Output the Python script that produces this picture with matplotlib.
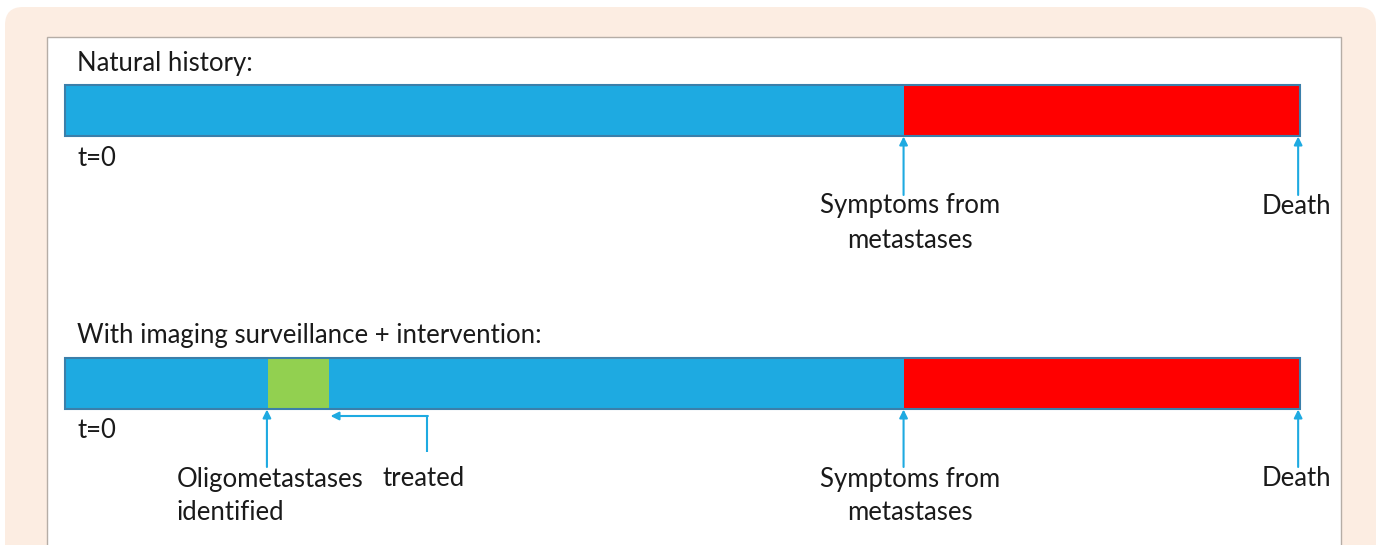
import matplotlib.pyplot as plt
from matplotlib.patches import FancyBboxPatch, Rectangle

# ---- timeline data (time units, death = 100) ----
t_start = 0
t_oligo_found = 16.4
t_oligo_treated = 21.4
t_symptoms = 67.9
t_death = 100

natural_segments = [(t_start, t_symptoms, '#1EAAE1'), (t_symptoms, t_death, '#FF0000')]
surveil_segments = [(t_start, t_oligo_found, '#1EAAE1'),
                    (t_oligo_found, t_oligo_treated, '#92D050'),
                    (t_oligo_treated, t_symptoms, '#1EAAE1'),
                    (t_symptoms, t_death, '#FF0000')]

row_titles = ['Natural history:', 'With imaging surveillance + intervention:']

ARROW_C = '#1EAAE1'
TEXT_C = '#1a1a1a'
FONT = ['Lato', 'DejaVu Sans']
FS = 18.5

W, H = 1381, 545
fig = plt.figure(figsize=(W / 100, H / 100), dpi=100)
fig.patch.set_facecolor('white')

# background panels in pixel space
bg = fig.add_axes([0, 0, 1, 1])
bg.set_xlim(0, W)
bg.set_ylim(H, 0)
bg.axis('off')
bg.add_patch(FancyBboxPatch((5, 7), W - 10, H + 30, boxstyle='round,pad=0,rounding_size=18',
                            fc='#FCEDE2', ec='none'))
bg.add_patch(Rectangle((47, 37), 1294, H, fc='white', ec='#B5ADA6', lw=1))

# timeline axes: x in time units, y in pixels
ax = fig.add_axes([0, 0, 1, 1])
ax.patch.set_alpha(0)
scale = 1235 / t_death  # px per time unit
x0 = 65
ax.set_xlim(-x0 / scale, (W - x0) / scale)
ax.set_ylim(H, 0)
ax.axis('off')


def label(x, y, s, ha='center'):
    ax.text(x, y, s, fontsize=FS, family=FONT, color=TEXT_C, va='center', ha=ha)


def draw_row(segments, bar_y):
    bar_h = 51
    for a, b, c in segments:
        ax.barh(bar_y, b - a, left=a, height=bar_h, color=c, edgecolor='none')
    ax.add_patch(Rectangle((t_start, bar_y - bar_h / 2), t_death - t_start, bar_h,
                           fill=False, ec='#3B7FAA', lw=1.5))
    label(t_start + 12 / scale, bar_y + 48, 't=0', ha='left')
    return bar_y + bar_h / 2


def up_arrow(x, y_from, y_to):
    ax.annotate('', xy=(x, y_to), xytext=(x, y_from),
                arrowprops=dict(arrowstyle='-|>', color=ARROW_C, lw=1.5,
                                mutation_scale=12, shrinkA=0, shrinkB=0))


# --- row 1 ---
label(12 / scale, 63, row_titles[0], ha='left')
bottom1 = draw_row(natural_segments, 110)
up_arrow(t_symptoms, 195, bottom1 + 1)
up_arrow(t_death - 0.15, 195, bottom1 + 1)
label(t_symptoms + 0.5, 206, 'Symptoms from')
label(t_symptoms + 0.5, 240, 'metastases')
label(t_death - 0.3, 206, 'Death')

# --- row 2 ---
label(12 / scale, 335, row_titles[1], ha='left')
bottom2 = draw_row(surveil_segments, 383)
up_arrow(t_oligo_found - 0.05, 467, bottom2 + 1)
up_arrow(t_symptoms, 467, bottom2 + 1)
up_arrow(t_death - 0.15, 467, bottom2 + 1)

# "treated" elbow arrow
tx = t_oligo_treated + 98 / scale
ax.plot([tx, tx], [452, 416], color=ARROW_C, lw=1.5, solid_capstyle='butt')
ax.annotate('', xy=(t_oligo_treated + 0.1, 416), xytext=(tx + 0.05, 416),
            arrowprops=dict(arrowstyle='-|>', color=ARROW_C, lw=1.5,
                            mutation_scale=12, shrinkA=0, shrinkB=0))

label(t_oligo_found - 91 / scale, 479, 'Oligometastases', ha='left')
label(t_oligo_found - 91 / scale, 513, 'identified', ha='left')
label(tx - 45 / scale, 479, 'treated', ha='left')
label(t_symptoms + 0.5, 479, 'Symptoms from')
label(t_symptoms + 0.5, 513, 'metastases')
label(t_death - 0.3, 479, 'Death')

fig.savefig('out.png', dpi=100)
